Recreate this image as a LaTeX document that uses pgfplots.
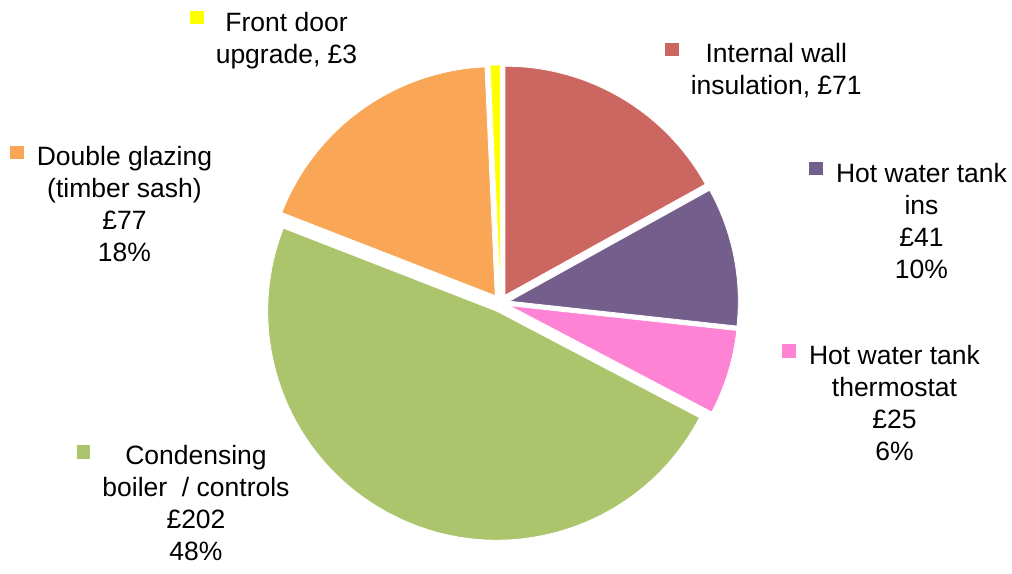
\documentclass[border=0pt]{standalone}
\usepackage{pgfplots}
\usepackage{pgfplotstable}
\pgfplotsset{compat=1.18}
\usepackage{fontspec}
\setmainfont{Liberation Sans}

\definecolor{slice0}{RGB}{204,102,96}
\definecolor{slice1}{RGB}{116,94,140}
\definecolor{slice2}{RGB}{255,131,213}
\definecolor{slice3}{RGB}{172,196,108}
\definecolor{slice4}{RGB}{249,166,87}
\definecolor{slice5}{RGB}{255,255,0}

% pie values (GBP), clockwise from 12 o'clock
\pgfplotstableread{
key value
wall 71
tankins 41
thermo 25
boiler 202
glazing 77
door 3
}\piedata

\def\pietotal{419}
\def\pcx{500.5}
\def\pcy{262}
\def\prad{229}
\def\pexp{9}

\begin{document}
\begin{tikzpicture}
\begin{axis}[
  scale only axis, width=1012pt, height=565pt,
  xmin=0, xmax=1012, ymin=0, ymax=565,
  hide axis, clip=false,
]
\path (axis cs:0,0) rectangle (axis cs:1012,565);
\pgfplotsextra{%
  \gdef\cum{0}%
  \foreach \i in {0,...,5}{%
    \pgfplotstablegetelem{\i}{value}\of\piedata
    \let\v\pgfplotsretval
    \pgfmathsetmacro\sa{90-\cum/\pietotal*360}%
    \pgfmathsetmacro\ea{90-(\cum+\v)/\pietotal*360}%
    \pgfmathsetmacro\ma{(\sa+\ea)/2}%
    \pgfmathsetmacro\ox{\pcx+\pexp*cos(\ma)}%
    \pgfmathsetmacro\oy{\pcy+\pexp*sin(\ma)}%
    \fill[slice\i, draw=white, line width=0.8pt] (axis cs:\ox,\oy) -- ++(\sa:\prad pt)
      arc[start angle=\sa, end angle=\ea, radius=\prad pt] -- cycle;
    \pgfmathsetmacro\newcum{\cum+\v}%
    \global\let\cum\newcum
  }%
}
% legend keys
\fill[slice5] (axis cs:190,{565-11}) rectangle (axis cs:204,{565-24});
\fill[slice0] (axis cs:665,{565-43}) rectangle (axis cs:679,{565-56});
\fill[slice4] (axis cs:10,{565-146}) rectangle (axis cs:24,{565-159});
\fill[slice1] (axis cs:809,{565-162}) rectangle (axis cs:823,{565-175});
\fill[slice2] (axis cs:782,{565-344}) rectangle (axis cs:796,{565-358});
\fill[slice3] (axis cs:77,{565-445}) rectangle (axis cs:90,{565-459});
% labels
\tikzset{lab/.style={anchor=north, inner sep=0pt, align=center,
  font=\fontsize{26.5}{32}\selectfont}}
\node[lab] at (axis cs:286.5,{565-12}) {Front door\\upgrade, £3};
\node[lab] at (axis cs:776.3,{565-43.5}) {Internal wall\\insulation, £71};
\node[lab] at (axis cs:124.5,{565-146}) {Double glazing\\(timber sash)\\£77\\18\%};
\node[lab] at (axis cs:921.5,{565-163}) {Hot water tank\\ins\\£41\\10\%};
\node[lab] at (axis cs:894.5,{565-345}) {Hot water tank\\thermostat\\£25\\6\%};
\node[lab] at (axis cs:196,{565-445}) {Condensing\\boiler\ \ / controls\\£202\\48\%};
\end{axis}
\end{tikzpicture}
\end{document}
